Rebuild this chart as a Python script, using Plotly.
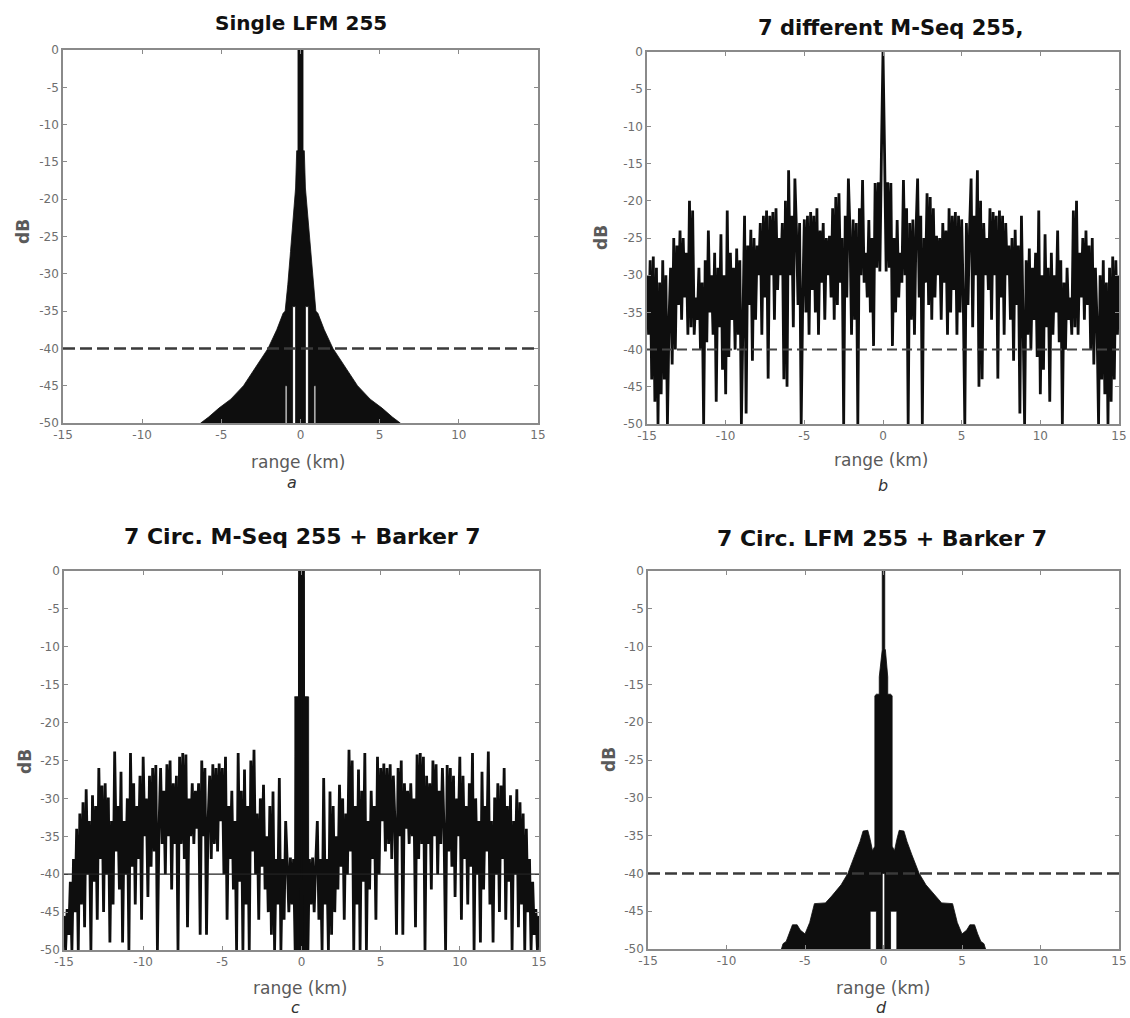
import plotly.graph_objects as go

W, H = 1130, 1018

# ---------------------------------------------------------------------------
# Data (dB vs range in km)
# ---------------------------------------------------------------------------
STEP_KM = 0.1          # sample spacing of the sidelobe traces
THRESHOLD_DB = -40     # reference level drawn in every panel

# b) 7 different M-sequences of length 255, one-sided (0 .. 15 km)
mseq_db = [
    0, -13.6, -29.5, -17.5, -29.0, -17.6, -39.5, -25.0, -35.0, -22.6,
    -33.0, -27.0, -31.0, -17.2, -30.0, -21.0, -50.0, -23.0, -36.0, -22.5,
    -38.0, -24.0, -17.0, -33.0, -22.0, -50.0, -25.0, -31.0, -19.0, -34.0,
    -19.5, -36.0, -21.0, -33.0, -24.7, -30.0, -25.0, -36.0, -23.0, -31.0,
    -24.0, -38.0, -21.0, -35.0, -22.0, -32.0, -21.5, -38.0, -22.0, -35.0,
    -22.5, -33.0, -50.0, -23.0, -34.0, -24.0, -17.0, -37.0, -22.0, -30.0,
    -15.9, -45.0, -20.0, -44.0, -23.0, -30.0, -25.0, -32.0, -21.0, -36.0,
    -21.5, -30.0, -22.0, -43.9, -21.3, -33.0, -22.0, -38.0, -23.0, -30.0,
    -26.0, -36.0, -25.0, -41.5, -23.9, -34.0, -26.0, -48.6, -22.0, -36.0,
    -50.0, -28.0, -38.0, -26.4, -40.0, -29.0, -36.0, -27.0, -41.0, -21.3,
    -46.0, -30.0, -42.7, -24.5, -37.0, -29.0, -47.0, -27.0, -38.0, -30.0,
    -35.0, -24.0, -39.0, -28.0, -50.0, -31.0, -40.0, -29.0, -36.0, -33.0,
    -38.0, -21.3, -37.0, -20.0, -38.0, -27.0, -33.0, -25.0, -36.0, -24.0,
    -34.0, -26.0, -40.0, -25.0, -42.0, -29.0, -36.0, -50.0, -30.0, -44.0,
    -28.0, -46.0, -31.0, -50.0, -29.0, -47.0, -27.5, -44.0, -28.0, -38.0,
    -30.0,
]

# c) 7 circularly shifted M-sequences 255 + Barker 7, one-sided (0 .. 15 km)
circ_mseq_db = [
    0, -1.0, -50.0, -16.6, -50.0, -38.0, -44.0, -37.8, -45.0, -38.5,
    -33.0, -46.0, -38.0, -50.0, -27.3, -44.0, -38.0, -50.0, -29.1, -48.0,
    -31.0, -45.0, -35.0, -42.0, -28.2, -39.0, -30.0, -46.0, -32.0, -40.0,
    -23.6, -37.0, -25.0, -50.0, -31.0, -44.0, -26.2, -50.0, -29.0, -41.0,
    -24.0, -50.0, -33.0, -42.0, -29.0, -38.0, -31.0, -46.0, -24.5, -40.0,
    -26.0, -33.0, -25.4, -37.0, -26.0, -36.0, -25.5, -38.0, -27.0, -33.0,
    -48.0, -26.0, -35.0, -25.0, -48.0, -28.0, -34.0, -29.0, -36.0, -28.0,
    -35.0, -30.0, -47.0, -24.2, -38.0, -24.0, -36.0, -24.5, -50.0, -27.0,
    -36.0, -28.0, -42.0, -25.0, -35.0, -25.5, -40.0, -29.0, -36.0, -26.0,
    -34.0, -50.0, -25.6, -37.0, -26.0, -39.0, -27.0, -43.0, -30.0, -35.0,
    -24.5, -46.0, -27.0, -38.0, -31.0, -44.0, -28.0, -39.0, -24.0, -50.0,
    -30.0, -40.0, -33.0, -49.0, -26.5, -42.0, -31.0, -37.0, -23.8, -44.0,
    -33.0, -49.0, -29.9, -40.0, -28.0, -45.0, -28.3, -38.0, -26.0, -46.0,
    -31.0, -41.0, -29.6, -50.0, -33.0, -40.0, -28.8, -47.0, -30.5, -44.0,
    -32.0, -50.0, -34.0, -45.0, -38.0, -50.0, -41.0, -48.0, -44.6, -50.0,
    -45.5,
]
# c) main-lobe block of the same response: one-sided envelope
circ_mseq_core_km = [0, 0.19, 0.19, 0.45]
circ_mseq_core_top_db = [0, 0, -16.6, -16.6]
circ_mseq_core_floor_db = [-50, -50, -50, -50]

# a) single LFM 255: one-sided envelope (upper edge and lower edge of the trace)
lfm_km = [0, 0.16, 0.16, 0.24, 0.31, 0.31, 0.44, 0.50, 0.50, 0.63,
          0.80, 0.85, 0.85, 0.97, 0.97, 1.10, 1.50, 2.05, 2.80, 3.60,
          4.40, 5.15, 5.80, 6.30]
lfm_top_db = [0, 0, -13.5, -13.5, -18.5, -18.5, -22.0, -23.5, -23.5, -27.0,
              -31.4, -33.0, -33.0, -35.0, -35.0, -35.3, -37.5, -40.0, -42.5, -45.0,
              -46.8, -48.0, -49.2, -50.0]
lfm_floor_db = [-50, -50, -50, -50, -50, -34.4, -34.4, -34.4, -50, -50,
                -50, -50, -45, -45, -50, -50, -50, -50, -50, -50,
                -50, -50, -50, -50]

# d) 7 circularly shifted LFM 255 + Barker 7: one-sided envelope
circ_lfm_km = [0, 0.08, 0.08, 0.12, 0.27, 0.27, 0.45, 0.45, 0.55, 0.55,
               0.70, 0.85, 0.85, 1.00, 1.30, 1.50, 1.80, 2.27, 2.70, 3.30,
               3.70, 4.40, 4.70, 5.00, 5.30, 5.50, 5.80, 6.00, 6.20, 6.40,
               6.50]
circ_lfm_top_db = [0, 0, -10.4, -10.4, -14.0, -16.3, -16.3, -16.3, -16.5, -36.4,
                   -37.0, -35.5, -35.5, -34.3, -34.4, -35.8, -37.5, -40.0, -41.5, -43.0,
                   -43.9, -44.0, -46.5, -48.0, -47.5, -46.8, -46.8, -48.0, -49.0, -49.3,
                   -50.0]
circ_lfm_floor_db = [-40, -40, -50, -50, -50, -50, -50, -45, -45, -45,
                     -45, -45, -50, -50, -50, -50, -50, -50, -50, -50,
                     -50, -50, -50, -50, -50, -50, -50, -50, -50, -50,
                     -50]

X_TICKS = [-15, -10, -5, 0, 5, 10, 15]
X_TICK_TEXT = ["-15", "-10", "-5", "0", "5", "10", "15"]
Y_TICKS = [0, -5, -10, -15, -20, -25, -30, -35, -40, -45, -50]
Y_TICK_TEXT = ["0", "-5", "-10", "-15", "-20", "-25", "-30", "-35", "-40", "-45", "-50"]

TITLES = ["Single LFM 255", "7 different M-Seq 255,",
          "7 Circ. M-Seq 255 + Barker 7", "7 Circ. LFM 255 + Barker 7"]
LETTERS = ["a", "b", "c", "d"]
X_LABEL = "range (km)"
Y_LABEL = "dB"

# ---------------------------------------------------------------------------
# Layout (pixel boxes of the four axes)
# ---------------------------------------------------------------------------
BOXES = [  # left, right, top, bottom in px
    (63, 538, 50, 423),
    (647, 1119, 52, 424),
    (64, 539, 571, 950),
    (648, 1119, 571, 949),
]
TITLE_POS = [(301, 23, 20), (890, 28, 21), (302, 536, 22), (882, 538, 22)]
YLABEL_POS = [(23, 232), (601, 238), (25, 762), (609, 760)]
XLABEL_POS = [(298, 462), (881, 460), (300, 988), (883, 988)]
LETTER_POS = [(292, 482), (883, 485), (295, 1007), (881, 1007)]

AXIS_GRAY = "#8a8a8a"
TEXT_GRAY = "#5a5a5a"
INK = "#0e0e0e"
TRACE_WIDTH = 2.8


def mirrored(values):
    """Two-sided series from a one-sided (symmetric) one."""
    return values[:0:-1] + values


def mirrored_km(km):
    return [-k for k in km[:0:-1]] + km


def envelope_polygon(km, top, floor):
    xs = mirrored_km(km)
    ys_top = mirrored(top)
    ys_floor = mirrored(floor)
    return xs + xs[::-1], ys_top + ys_floor[::-1]


def envelope_trace(km, top, floor, xaxis, yaxis):
    xs, ys = envelope_polygon(km, top, floor)
    return go.Scatter(x=xs, y=ys, mode="lines", fill="toself", fillcolor=INK,
                      line=dict(color=INK, width=0.8), xaxis=xaxis, yaxis=yaxis,
                      hoverinfo="skip")


fig = go.Figure()

# a) filled envelope
fig.add_trace(envelope_trace(lfm_km, lfm_top_db, lfm_floor_db, "x", "y"))

# b) dense sidelobe trace
fig.add_trace(go.Scatter(y=mirrored(mseq_db), x0=-15, dx=STEP_KM, mode="lines",
                         line=dict(color=INK, width=TRACE_WIDTH, simplify=False),
                         xaxis="x2", yaxis="y2", hoverinfo="skip"))

# c) main-lobe block and dense sidelobe trace
fig.add_trace(envelope_trace(circ_mseq_core_km, circ_mseq_core_top_db,
                             circ_mseq_core_floor_db, "x3", "y3"))
fig.add_trace(go.Scatter(y=mirrored(circ_mseq_db), x0=-15, dx=STEP_KM, mode="lines",
                         line=dict(color=INK, width=TRACE_WIDTH, simplify=False),
                         xaxis="x3", yaxis="y3", hoverinfo="skip"))

# d) filled envelope
fig.add_trace(envelope_trace(circ_lfm_km, circ_lfm_top_db, circ_lfm_floor_db, "x4", "y4"))

# threshold lines
THRESH_STYLE = [
    dict(color="#3a3a3a", width=2.5, dash="12px,5px"),
    dict(color="#444444", width=2.0, dash="10px,5px"),
    dict(color="#222222", width=1.2, dash="solid"),
    dict(color="#3a3a3a", width=2.5, dash="12px,5px"),
]
shapes = []
for i, style in enumerate(THRESH_STYLE):
    n = "" if i == 0 else str(i + 1)
    shapes.append(dict(type="line", xref=f"x{n} domain", x0=0, x1=1,
                       yref=f"y{n}", y0=THRESHOLD_DB, y1=THRESHOLD_DB,
                       line=style, layer="above"))

axis_common = dict(
    showgrid=False, zeroline=False, showline=True, linecolor=AXIS_GRAY,
    linewidth=1.6, mirror="ticks", ticks="inside", ticklen=4, tickwidth=1.2,
    tickcolor=AXIS_GRAY, tickfont=dict(family="DejaVu Sans", size=12, color="#6e6e6e"),
    automargin=False, fixedrange=True,
)

layout = dict(
    width=W, height=H, margin=dict(l=0, r=0, t=0, b=0),
    paper_bgcolor="white", plot_bgcolor="white", showlegend=False,
    shapes=shapes,
)

annotations = []
for i, (l, r, t, b) in enumerate(BOXES):
    n = "" if i == 0 else str(i + 1)
    layout[f"xaxis{n}"] = dict(axis_common, domain=[l / W, r / W], anchor=f"y{n}",
                               range=[-15, 15], tickvals=X_TICKS, ticktext=X_TICK_TEXT)
    layout[f"yaxis{n}"] = dict(axis_common, domain=[1 - b / H, 1 - t / H], anchor=f"x{n}",
                               range=[-50, 0], tickvals=Y_TICKS, ticktext=Y_TICK_TEXT)

    tx, ty, ts = TITLE_POS[i]
    annotations.append(dict(text=f"<b>{TITLES[i]}</b>", x=tx / W, y=1 - ty / H,
                            xref="paper", yref="paper", showarrow=False,
                            xanchor="center", yanchor="middle",
                            font=dict(family="DejaVu Sans", size=ts, color="#111111")))
    yx, yy = YLABEL_POS[i]
    annotations.append(dict(text=f"<b>{Y_LABEL}</b>", x=yx / W, y=1 - yy / H,
                            xref="paper", yref="paper", showarrow=False, textangle=-90,
                            xanchor="center", yanchor="middle",
                            font=dict(family="DejaVu Sans", size=17, color=TEXT_GRAY)))
    lx, ly = XLABEL_POS[i]
    annotations.append(dict(text=X_LABEL, x=lx / W, y=1 - ly / H,
                            xref="paper", yref="paper", showarrow=False,
                            xanchor="center", yanchor="middle",
                            font=dict(family="DejaVu Sans", size=17, color=TEXT_GRAY)))
    cx, cy = LETTER_POS[i]
    annotations.append(dict(text=f"<i>{LETTERS[i]}</i>", x=cx / W, y=1 - cy / H,
                            xref="paper", yref="paper", showarrow=False,
                            xanchor="center", yanchor="middle",
                            font=dict(family="DejaVu Sans", size=16, color="#333333")))

layout["annotations"] = annotations
fig.update_layout(**layout)

fig.write_html("out.html")
